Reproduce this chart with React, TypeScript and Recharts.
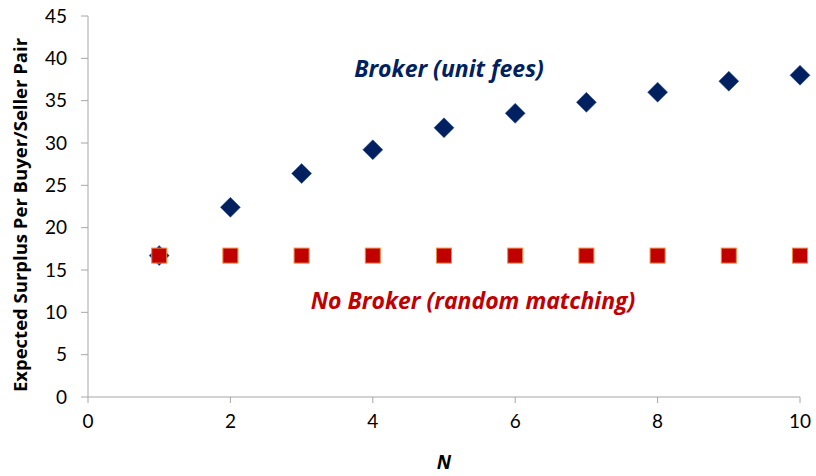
import { ScatterChart, Scatter, XAxis, YAxis } from 'recharts'

const nValues = [1, 2, 3, 4, 5, 6, 7, 8, 9, 10]
const brokerSurplus = [16.7, 22.4, 26.4, 29.2, 31.8, 33.5, 34.8, 36.0, 37.3, 38.0]
const noBrokerSurplus = [16.7, 16.7, 16.7, 16.7, 16.7, 16.7, 16.7, 16.7, 16.7, 16.7]
const xTicks = [0, 2, 4, 6, 8, 10]
const yTicks = [0, 5, 10, 15, 20, 25, 30, 35, 40, 45]

const brokerData = nValues.map((n, i) => ({ n, v: brokerSurplus[i] }))
const noBrokerData = nValues.map((n, i) => ({ n, v: noBrokerSurplus[i] }))

const font = 'Lato, "Open Sans", sans-serif'
const wideFont = '"Open Sans", sans-serif'
const axisColor = '#A6A6A6'

const Diamond = (props: any) => {
    const { cx, cy } = props
    const r = 10
    return <path d={`M${cx},${cy - r}L${cx + r},${cy}L${cx},${cy + r}L${cx - r},${cy}Z`} fill="#002060" stroke="#2F5597" strokeWidth={0.5} />
}

const Square = (props: any) => {
    const { cx, cy } = props
    const h = 7.5
    return <rect x={cx - h} y={cy - h} width={h * 2} height={h * 2} fill="#C00000" stroke="#F0883A" strokeWidth={1} />
}

export default function App() {
    return (
        <div style={{ position: 'absolute', left: 0, top: 0, width: 816, height: 476, background: '#fff', fontFamily: font }}>
            <ScatterChart width={816} height={476} margin={{ top: 16, right: 16, bottom: 0, left: 0 }}>
                <XAxis type="number" dataKey="n" domain={[0, 10]} ticks={xTicks} height={79}
                    stroke={axisColor} tickSize={6} tickMargin={12}
                    tick={{ fontSize: 19, fill: '#000', fontFamily: font }} />
                <YAxis type="number" dataKey="v" domain={[0, 45]} ticks={yTicks} width={88}
                    stroke={axisColor} tickSize={7} tickMargin={14}
                    tick={{ fontSize: 19, fill: '#000', fontFamily: font }} />
                <Scatter name="Broker (unit fees)" data={brokerData} shape={Diamond} isAnimationActive={false} />
                <Scatter name="No Broker (random matching)" data={noBrokerData} shape={Square} isAnimationActive={false} />
            </ScatterChart>
            <div style={{ position: 'absolute', left: 19, top: 215, transform: 'translate(-50%, -50%) rotate(-90deg)', color: '#000', fontWeight: 'bold', fontSize: 18.5, fontFamily: wideFont, whiteSpace: 'nowrap' }}>
                Expected Surplus Per Buyer/Seller Pair
            </div>
            <div style={{ position: 'absolute', left: 444, top: 462, transform: 'translate(-50%, -50%)', color: '#000', fontWeight: 'bold', fontStyle: 'italic', fontSize: 19, fontFamily: wideFont }}>
                N
            </div>
            <div style={{ position: 'absolute', left: 449, top: 68, transform: 'translate(-50%, -50%)', color: '#002060', fontWeight: 'bold', fontStyle: 'italic', fontSize: 23, fontFamily: wideFont, whiteSpace: 'nowrap' }}>
                Broker (unit fees)
            </div>
            <div style={{ position: 'absolute', left: 473, top: 300, transform: 'translate(-50%, -50%)', color: '#C00000', fontWeight: 'bold', fontStyle: 'italic', fontSize: 23, fontFamily: wideFont, whiteSpace: 'nowrap' }}>
                No Broker (random matching)
            </div>
        </div>
    )
}
